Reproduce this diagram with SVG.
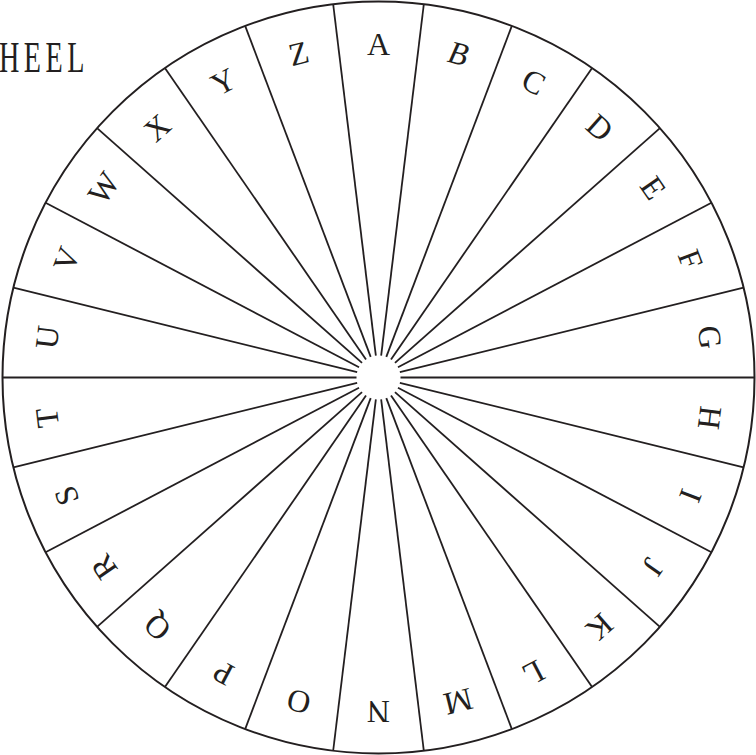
<svg xmlns="http://www.w3.org/2000/svg" width="756" height="755" viewBox="0 0 756 755">
<style>
.sp{stroke:#231f20;stroke-width:1.8;fill:none}
.rim{stroke:#231f20;stroke-width:2;fill:#fff}
.lt{font-family:"Liberation Serif","DejaVu Serif",serif;font-size:32px;fill:#231f20;text-anchor:middle}
.ttl{font-family:"Liberation Serif","DejaVu Serif",serif;font-size:44px;fill:#231f20;letter-spacing:7px}
</style>
<defs>
<line id="spoke" class="sp" x1="378.5" y1="355.5" x2="378.5" y2="1.5"/>
</defs>
<rect width="756" height="755" fill="#fff"/>
<g id="title"><text class="ttl" transform="translate(-1 71.5) scale(0.64 1)" x="0" y="0">HEEL</text></g>
<g id="wheel"><circle class="rim" cx="378.5" cy="377.5" r="376"/></g>
<g id="spokes">
<use href="#spoke" transform="rotate(6.923 378.5 377.5)"/>
<use href="#spoke" transform="rotate(20.769 378.5 377.5)"/>
<use href="#spoke" transform="rotate(34.615 378.5 377.5)"/>
<use href="#spoke" transform="rotate(48.462 378.5 377.5)"/>
<use href="#spoke" transform="rotate(62.308 378.5 377.5)"/>
<use href="#spoke" transform="rotate(76.154 378.5 377.5)"/>
<use href="#spoke" transform="rotate(90 378.5 377.5)"/>
<use href="#spoke" transform="rotate(103.846 378.5 377.5)"/>
<use href="#spoke" transform="rotate(117.692 378.5 377.5)"/>
<use href="#spoke" transform="rotate(131.538 378.5 377.5)"/>
<use href="#spoke" transform="rotate(145.385 378.5 377.5)"/>
<use href="#spoke" transform="rotate(159.231 378.5 377.5)"/>
<use href="#spoke" transform="rotate(173.077 378.5 377.5)"/>
<use href="#spoke" transform="rotate(186.923 378.5 377.5)"/>
<use href="#spoke" transform="rotate(200.769 378.5 377.5)"/>
<use href="#spoke" transform="rotate(214.615 378.5 377.5)"/>
<use href="#spoke" transform="rotate(228.462 378.5 377.5)"/>
<use href="#spoke" transform="rotate(242.308 378.5 377.5)"/>
<use href="#spoke" transform="rotate(256.154 378.5 377.5)"/>
<use href="#spoke" transform="rotate(270 378.5 377.5)"/>
<use href="#spoke" transform="rotate(283.846 378.5 377.5)"/>
<use href="#spoke" transform="rotate(297.692 378.5 377.5)"/>
<use href="#spoke" transform="rotate(311.538 378.5 377.5)"/>
<use href="#spoke" transform="rotate(325.385 378.5 377.5)"/>
<use href="#spoke" transform="rotate(339.231 378.5 377.5)"/>
<use href="#spoke" transform="rotate(353.077 378.5 377.5)"/>
</g>
<g id="letters">
<text id="A" class="lt" x="378.5" y="54.5" transform="rotate(0 378.5 377.5)">A</text>
<text id="B" class="lt" x="378.5" y="54.5" transform="rotate(13.846 378.5 377.5)" font-style="italic">B</text>
<text id="C" class="lt" x="378.5" y="54.5" transform="rotate(27.692 378.5 377.5)">C</text>
<text id="D" class="lt" x="378.5" y="54.5" transform="rotate(41.538 378.5 377.5)">D</text>
<text id="E" class="lt" x="378.5" y="54.5" transform="rotate(55.385 378.5 377.5)">E</text>
<text id="F" class="lt" x="378.5" y="54.5" transform="rotate(69.231 378.5 377.5)">F</text>
<text id="G" class="lt" x="378.5" y="54.5" transform="rotate(83.077 378.5 377.5)">G</text>
<text id="H" class="lt" x="378.5" y="54.5" transform="rotate(96.923 378.5 377.5)">H</text>
<text id="I" class="lt" x="378.5" y="54.5" transform="rotate(110.769 378.5 377.5)">I</text>
<text id="J" class="lt" x="378.5" y="54.5" transform="rotate(124.615 378.5 377.5)">J</text>
<text id="K" class="lt" x="378.5" y="54.5" transform="rotate(138.462 378.5 377.5)">K</text>
<text id="L" class="lt" x="378.5" y="54.5" transform="rotate(152.308 378.5 377.5)">L</text>
<text id="M" class="lt" x="378.5" y="54.5" transform="rotate(166.154 378.5 377.5)">M</text>
<text id="N" class="lt" x="378.5" y="54.5" transform="rotate(180 378.5 377.5)">N</text>
<text id="O" class="lt" x="378.5" y="54.5" transform="rotate(193.846 378.5 377.5)">O</text>
<text id="P" class="lt" x="378.5" y="54.5" transform="rotate(207.692 378.5 377.5)">P</text>
<text id="Q" class="lt" x="378.5" y="54.5" transform="rotate(221.538 378.5 377.5)">Q</text>
<text id="R" class="lt" x="378.5" y="54.5" transform="rotate(235.385 378.5 377.5)">R</text>
<text id="S" class="lt" x="378.5" y="54.5" transform="rotate(249.231 378.5 377.5)">S</text>
<text id="T" class="lt" x="378.5" y="54.5" transform="rotate(263.077 378.5 377.5)">T</text>
<text id="U" class="lt" x="378.5" y="54.5" transform="rotate(276.923 378.5 377.5)">U</text>
<text id="V" class="lt" x="378.5" y="54.5" transform="rotate(290.769 378.5 377.5)">V</text>
<text id="W" class="lt" x="378.5" y="54.5" transform="rotate(304.615 378.5 377.5)">W</text>
<text id="X" class="lt" x="378.5" y="54.5" transform="rotate(318.462 378.5 377.5)">X</text>
<text id="Y" class="lt" x="378.5" y="54.5" transform="rotate(332.308 378.5 377.5)">Y</text>
<text id="Z" class="lt" x="378.5" y="54.5" transform="rotate(346.154 378.5 377.5)">Z</text>
</g>
</svg>
